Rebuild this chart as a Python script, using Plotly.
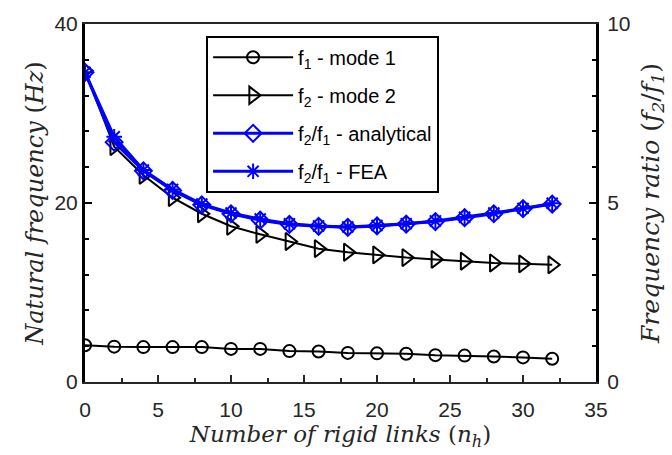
import plotly.graph_objects as go

links = [0, 2, 4, 6, 8, 10, 12, 14, 16, 18, 20, 22, 24, 26, 28, 30, 32]
f1_mode1 = [4.1, 3.95, 3.9, 3.9, 3.9, 3.7, 3.7, 3.45, 3.4, 3.25, 3.2, 3.15, 3.0, 2.95, 2.85, 2.75, 2.6]
f2_mode2 = [34.8, 26.3, 23.1, 20.6, 18.8, 17.4, 16.5, 15.7, 14.9, 14.5, 14.2, 13.9, 13.7, 13.5, 13.3, 13.2, 13.1]
ratio_analytical = [8.65, 6.7, 5.9, 5.35, 4.95, 4.7, 4.52, 4.4, 4.35, 4.32, 4.36, 4.41, 4.48, 4.59, 4.7, 4.84, 4.97]
ratio_fea = [8.65, 6.85, 5.92, 5.38, 4.97, 4.72, 4.55, 4.42, 4.36, 4.33, 4.37, 4.42, 4.5, 4.6, 4.72, 4.85, 4.99]

BLUE = "#0000FF"
TXT = "#262626"
SANS = "Liberation Sans, Arial, sans-serif"
SERIF = "DejaVu Serif, Liberation Serif, serif"

fig = go.Figure()
fig.add_trace(go.Scatter(
    x=links, y=f1_mode1, name="f<sub>1</sub> - mode 1", mode="lines+markers",
    legendgroup="g1",
    line=dict(color="black", width=2),
    marker=dict(symbol="circle-open", size=12, color="black", line=dict(width=2)),
))
fig.add_trace(go.Scatter(
    x=links, y=f2_mode2, name="f<sub>2</sub> - mode 2", mode="lines+markers",
    legendgroup="g2",
    line=dict(color="black", width=2),
    marker=dict(symbol="triangle-right-open", size=15, color="black", line=dict(width=2)),
))
fig.add_trace(go.Scatter(
    x=links, y=ratio_analytical, name="f<sub>2</sub>/f<sub>1</sub> - analytical", mode="lines+markers",
    yaxis="y2", legendgroup="g3",
    line=dict(color=BLUE, width=3),
    marker=dict(symbol="diamond-open", size=13, color=BLUE, line=dict(width=2)),
))
fig.add_trace(go.Scatter(
    x=links, y=ratio_fea, name="f<sub>2</sub>/f<sub>1</sub> - FEA", mode="lines+markers",
    yaxis="y2", legendgroup="g4",
    line=dict(color=BLUE, width=3),
    marker=dict(symbol="asterisk-open", size=13, color=BLUE, line=dict(width=2)),
))

fig.update_layout(
    width=672, height=455,
    margin=dict(l=85, r=74, t=15, b=72),
    plot_bgcolor="white", paper_bgcolor="white",
    font=dict(family=SANS, size=20, color=TXT),
    showlegend=True,
    legend=dict(
        x=0.237, y=0.967, xanchor="left", yanchor="top",
        bgcolor="white", bordercolor="black", borderwidth=2,
        font=dict(family=SANS, size=20, color="black"),
        itemwidth=80, tracegroupgap=9,
    ),
    xaxis=dict(
        range=[0, 35], tickmode="array", tickvals=[0, 5, 10, 15, 20, 25, 30, 35],
        ticks="inside", ticklen=7, tickwidth=2, tickcolor=TXT,
        minor=dict(ticks="inside", ticklen=4, tickwidth=2, tickcolor=TXT, dtick=2.5, tick0=0),
        showline=True, linecolor=TXT, linewidth=2, mirror=True,
        showgrid=False, zeroline=False,
        tickfont=dict(family=SANS, size=21, color=TXT),
        ticklabelstandoff=8,
        title=dict(text="<i>Number of rigid links</i> (<i>n<sub>h</sub></i>)",
                   font=dict(family=SERIF, size=23, color=TXT), standoff=6),
    ),
    yaxis=dict(
        range=[0, 40], tickmode="array", tickvals=[0, 20, 40],
        ticks="inside", ticklen=7, tickwidth=2, tickcolor="black",
        minor=dict(ticks="inside", ticklen=4, tickwidth=2, tickcolor="black", dtick=4, tick0=0),
        showline=True, linecolor="black", linewidth=3,
        showgrid=False, zeroline=False,
        tickfont=dict(family=SANS, size=21, color=TXT),
        title=dict(text="<i>Natural frequency</i> (<i>Hz</i>)",
                   font=dict(family=SERIF, size=24, color=TXT), standoff=5),
    ),
    yaxis2=dict(
        range=[0, 10], tickmode="array", tickvals=[0, 5, 10], overlaying="y", side="right",
        ticks="inside", ticklen=7, tickwidth=2, tickcolor="black",
        minor=dict(ticks="inside", ticklen=4, tickwidth=2, tickcolor="black", dtick=1, tick0=0),
        showline=True, linecolor="black", linewidth=3,
        showgrid=False, zeroline=False,
        tickfont=dict(family=SANS, size=21, color=TXT),
        ticklabelstandoff=4,
        title=dict(text="<i>Frequency ratio</i> (<i>f<sub>2</sub></i>/<i>f<sub>1</sub></i>)",
                   font=dict(family=SERIF, size=25, color=TXT), standoff=12),
    ),
)

fig.write_html("out.html")
